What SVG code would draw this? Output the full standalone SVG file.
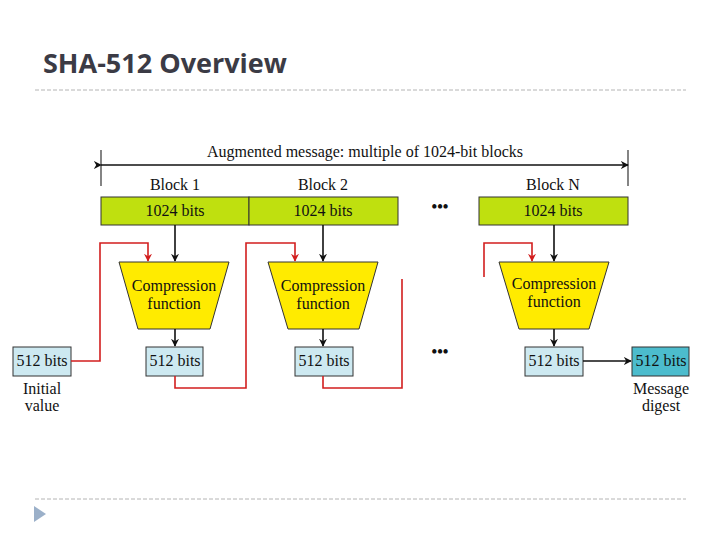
<svg xmlns="http://www.w3.org/2000/svg" width="720" height="540" viewBox="0 0 720 540">
<defs>
<style>
.t{font-family:"Liberation Serif","DejaVu Serif",serif;font-size:16px;fill:#111;text-anchor:middle}
.c{font-family:"Liberation Serif","DejaVu Serif",serif;font-size:16px;fill:#111;text-anchor:middle}
.green{fill:#bfe00f;stroke:#333;stroke-width:1}
.trap{fill:#ffeb00;stroke:#333;stroke-width:1}
.lb{fill:#cde9f1;stroke:#333;stroke-width:1}
.db{fill:#4cbccd;stroke:#333;stroke-width:1}
.bk{stroke:#111;stroke-width:1.6;fill:none}
.rd{stroke:#d21e1e;stroke-width:1.6;fill:none}
.dash{stroke:#b4b4b4;stroke-width:1;stroke-dasharray:4 2}
</style>
<marker id="ab" viewBox="0 0 10 10" refX="9" refY="5" markerWidth="8" markerHeight="8" markerUnits="userSpaceOnUse" orient="auto"><path d="M0,0 L10,5 L0,10 L3,5 z" fill="#111"/></marker>
<marker id="ar" viewBox="0 0 10 10" refX="9" refY="5" markerWidth="8" markerHeight="8" markerUnits="userSpaceOnUse" orient="auto"><path d="M0,0 L10,5 L0,10 L3,5 z" fill="#d21e1e"/></marker>
</defs>
<rect width="720" height="540" fill="#fff"/>
<g id="title">
<text x="43" y="73" font-family="'Open Sans','Liberation Sans',sans-serif" font-weight="bold" font-size="27" fill="#3b3b45">SHA-512 Overview</text>
<line class="dash" x1="35" y1="90" x2="686" y2="90"/>
<line class="dash" x1="35" y1="499" x2="686" y2="499"/>
<polygon points="34,506 46,514 34,522" fill="#9bb0c9"/>
</g>
<g id="span">
<line x1="101" y1="150" x2="101" y2="186" stroke="#333" stroke-width="1.2"/>
<line x1="628" y1="150" x2="628" y2="186" stroke="#333" stroke-width="1.2"/>
<text class="t" x="365" y="157">Augmented message: multiple of 1024-bit blocks</text>
</g>
<g id="block1"><text class="t" x="175" y="190">Block 1</text><rect class="green" x="101" y="197" width="148" height="28"/><text class="t" x="175" y="216">1024 bits</text></g>
<g id="block2"><text class="t" x="323" y="190">Block 2</text><rect class="green" x="249" y="197" width="149" height="28"/><text class="t" x="323" y="216">1024 bits</text></g>
<g id="blockN"><text class="t" x="553" y="190">Block N</text><rect class="green" x="479" y="197" width="149" height="28"/><text class="t" x="553" y="216">1024 bits</text></g>
<g id="dots1"><text x="440" y="212" font-family="'Liberation Serif',serif" font-size="16" font-weight="bold" text-anchor="middle" fill="#111">•••</text></g>
<g id="dots2"><text x="440" y="357" font-family="'Liberation Serif',serif" font-size="16" font-weight="bold" text-anchor="middle" fill="#111">•••</text></g>
<g id="cf1"><polygon class="trap" points="119,262 229,262 210,329 138,329"/><text class="c" x="174" y="291">Compression</text><text class="c" x="174" y="309">function</text></g>
<g id="cf2"><polygon class="trap" points="268,262 378,262 359,329 288,329"/><text class="c" x="323" y="291">Compression</text><text class="c" x="323" y="309">function</text></g>
<g id="cfN"><polygon class="trap" points="499,262 609,262 589,329 519,329"/><text class="c" x="554" y="289">Compression</text><text class="c" x="554" y="307">function</text></g>
<g id="iv"><rect class="lb" x="13" y="347" width="58" height="29"/><text class="t" x="42" y="366">512 bits</text><text class="t" x="42" y="394">Initial</text><text class="t" x="42" y="411">value</text></g>
<g id="h1"><rect class="lb" x="146" y="347" width="57" height="29"/><text class="t" x="175" y="366">512 bits</text></g>
<g id="h2"><rect class="lb" x="295" y="347" width="58" height="29"/><text class="t" x="324" y="366">512 bits</text></g>
<g id="hN"><rect class="lb" x="525" y="347" width="58" height="29"/><text class="t" x="554" y="366">512 bits</text></g>
<g id="digest"><rect class="db" x="632" y="347" width="57" height="29"/><text class="t" x="661" y="366">512 bits</text><text class="t" x="661" y="394">Message</text><text class="t" x="661" y="411">digest</text></g>
<g id="connectors">
<line x1="101" y1="165" x2="628" y2="165" class="bk" stroke-width="1.2" marker-start="url(#ab)" marker-end="url(#ab)"/>
<line class="bk" x1="175" y1="225" x2="175" y2="261" marker-end="url(#ab)"/>
<line class="bk" x1="323" y1="225" x2="323" y2="261" marker-end="url(#ab)"/>
<line class="bk" x1="554" y1="225" x2="554" y2="261" marker-end="url(#ab)"/>
<line class="bk" x1="175" y1="329" x2="175" y2="346" marker-end="url(#ab)"/>
<line class="bk" x1="323" y1="329" x2="323" y2="346" marker-end="url(#ab)"/>
<line class="bk" x1="554" y1="329" x2="554" y2="346" marker-end="url(#ab)"/>
<line class="bk" x1="583" y1="361" x2="631" y2="361" marker-end="url(#ab)"/>
<polyline class="rd" points="71,361 100,361 100,243 148,243 148,261" marker-end="url(#ar)"/>
<polyline class="rd" points="175,376 175,388 246,388 246,243 295,243 295,261" marker-end="url(#ar)"/>
<polyline class="rd" points="323,376 323,388 402,388 402,279"/>
<polyline class="rd" points="484,277 484,243 532,243 532,261" marker-end="url(#ar)"/>
</g>
</svg>
